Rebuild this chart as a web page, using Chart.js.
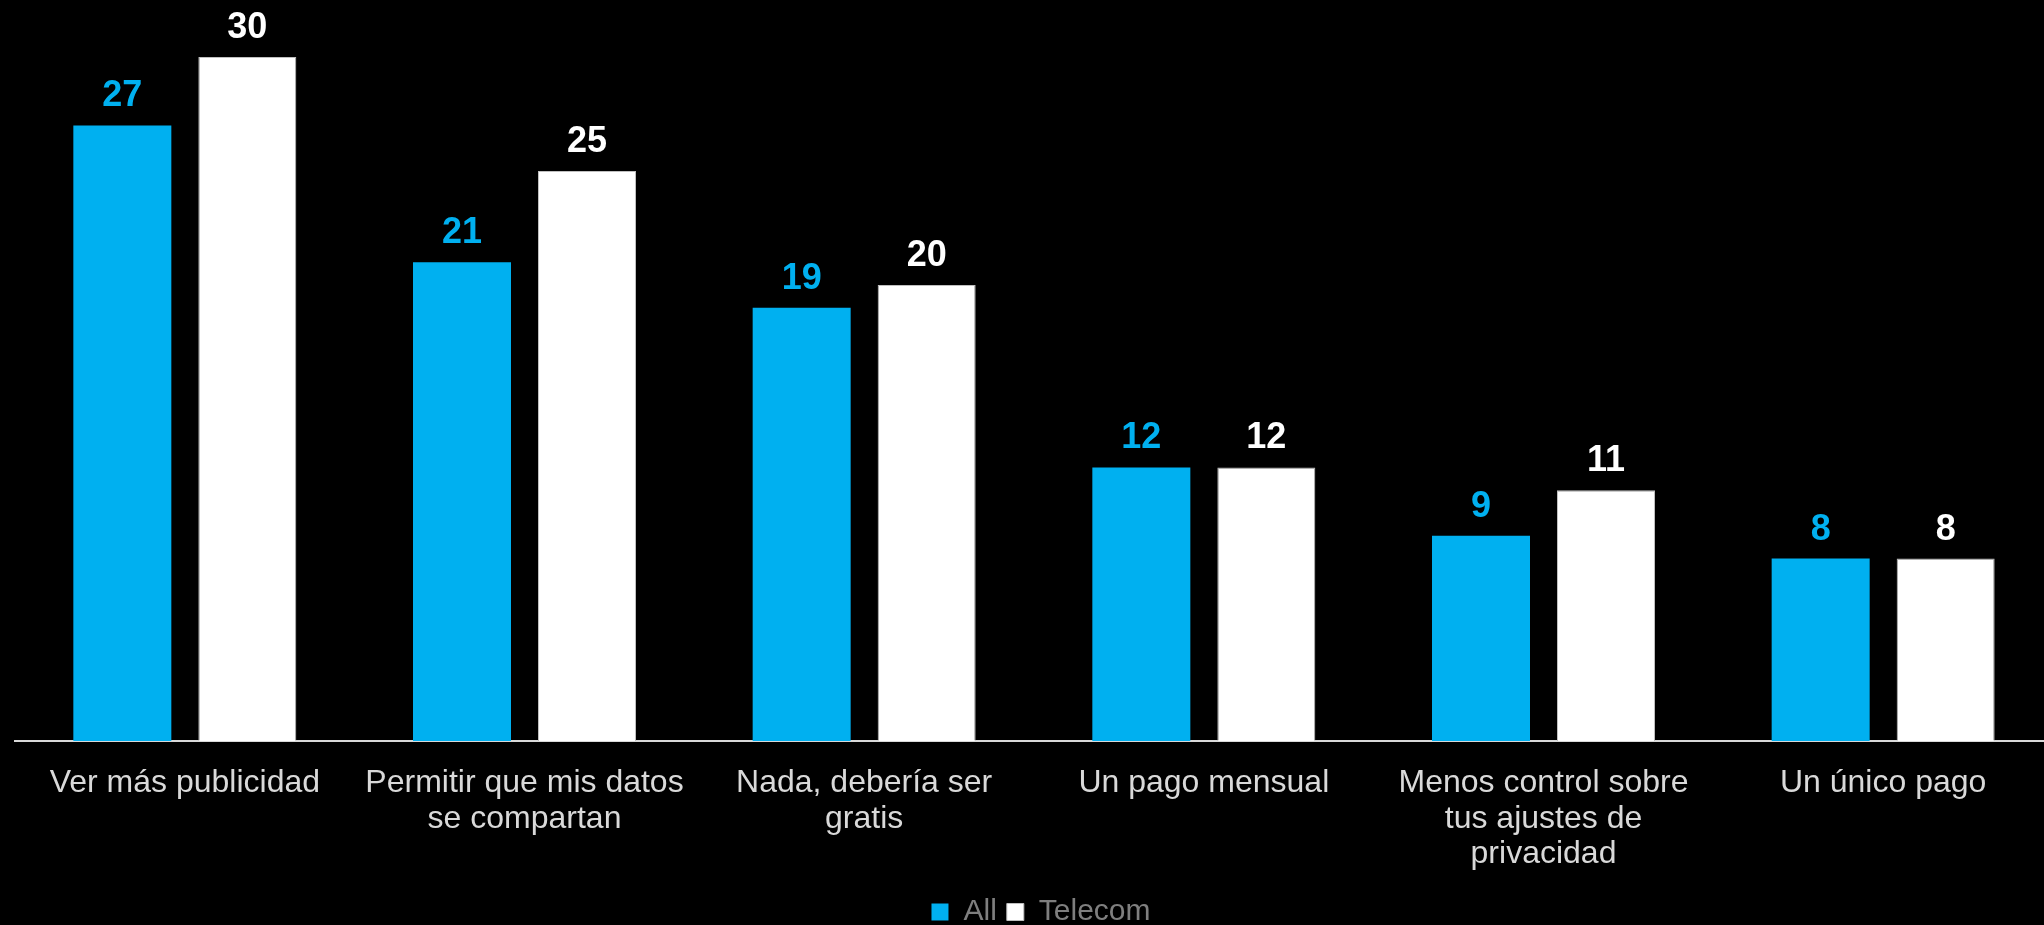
<!DOCTYPE html>
<html>
<head>
<meta charset="utf-8">
<script src="https://cdn.jsdelivr.net/npm/chart.js@4.4.1/dist/chart.umd.min.js"></script>
<style>
    html, body { margin: 0; padding: 0; background: #000; overflow: hidden; }
    #grafico { display: block; }
</style>
</head>
<body>
<canvas id="grafico" width="2053" height="937"></canvas>
<script>
var categorias = [
    'Ver más publicidad',
    ['Permitir que mis datos', 'se compartan'],
    ['Nada, debería ser', 'gratis'],
    'Un pago mensual',
    ['Menos control sobre', 'tus ajustes de', 'privacidad'],
    'Un único pago'
];
var valoresAll = [27, 21, 19, 12, 9, 8];
var valoresTelecom = [30, 25, 20, 12, 11, 8];

var fonte = '"Liberation Sans", Arial, sans-serif';

// valor encima de cada barra, del mismo color que la serie
var etiquetas = {
    id: 'etiquetas',
    afterDatasetsDraw(chart) {
        var ctx = chart.ctx;
        ctx.save();
        ctx.font = 'bold 36px ' + fonte;
        ctx.textAlign = 'center';
        ctx.textBaseline = 'alphabetic';
        chart.data.datasets.forEach((ds, i) => {
            chart.getDatasetMeta(i).data.forEach((barra, j) => {
                ctx.fillStyle = ds.labelColor;
                ctx.fillText(ds.data[j], barra.x, barra.y - 19);
            });
        });
        ctx.restore();
    }
};

// leyenda un poco desplazada a la derecha
var moverLeyenda = {
    id: 'moverLeyenda',
    afterLayout(chart) {
        chart.legend.left += 7;
        chart.legend.right += 7;
    }
};

var grafico = new Chart(document.getElementById('grafico').getContext('2d'), {
    type: 'bar',
    data: {
        labels: categorias,
        datasets: [{
            label: 'All',
            data: valoresAll,
            backgroundColor: '#00b0f0',
            labelColor: '#00b0f0',
            borderWidth: 0
        }, {
            label: 'Telecom',
            data: valoresTelecom,
            backgroundColor: '#ffffff',
            borderColor: '#bfbfbf',
            borderWidth: 1,
            borderSkipped: 'bottom',
            labelColor: '#ffffff'
        }]
    },
    options: {
        responsive: false,
        animation: false,
        categoryPercentage: 0.736,
        barPercentage: 0.784,
        layout: {
            padding: { left: 15, right: 0, top: 0, bottom: 0 }
        },
        scales: {
            x: {
                grid: { display: false, drawTicks: false },
                border: { display: true, color: '#d9d9d9', width: 2 },
                ticks: {
                    color: '#d9d9d9',
                    padding: 24,
                    maxRotation: 0,
                    autoSkip: false,
                    font: { family: fonte, size: 32, lineHeight: 1.12 }
                },
                afterFit: (escala) => { escala.height = 146; }
            },
            y: {
                display: false,
                min: 0,
                max: 32.5
            }
        },
        plugins: {
            legend: {
                position: 'bottom',
                labels: {
                    color: '#7f7f7f',
                    boxWidth: 17,
                    boxHeight: 17,
                    padding: 10,
                    font: { family: fonte, size: 30 }
                }
            },
            tooltip: { enabled: false }
        }
    },
    plugins: [etiquetas, moverLeyenda]
});
</script>
</body>
</html>
